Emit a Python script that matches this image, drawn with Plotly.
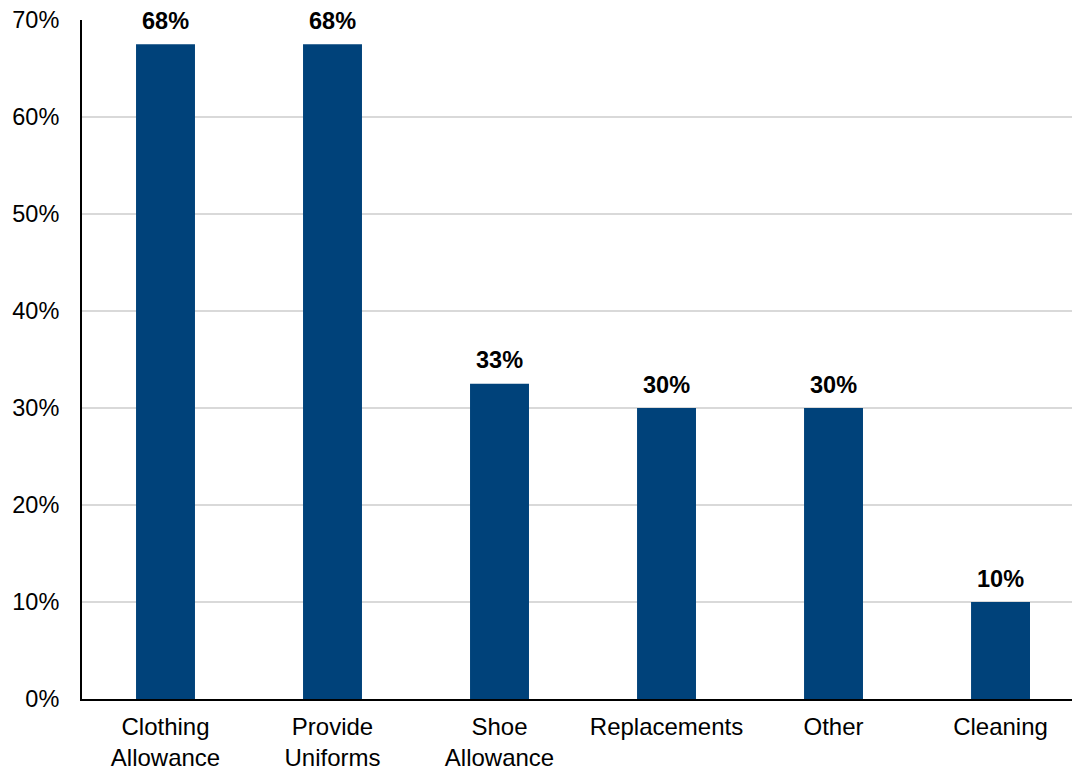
import plotly.graph_objects as go

categories = ["Clothing<br>Allowance", "Provide<br>Uniforms", "Shoe<br>Allowance", "Replacements", "Other", "Cleaning"]
values = [0.675, 0.675, 0.325, 0.30, 0.30, 0.10]
labels = ["68%", "68%", "33%", "30%", "30%", "10%"]
y_ticks = [0, 0.1, 0.2, 0.3, 0.4, 0.5, 0.6, 0.7]
y_tick_labels = ["0%", "10%", "20%", "30%", "40%", "50%", "60%", "70%"]

FONT = "Liberation Sans, Arial, sans-serif"

fig = go.Figure()
fig.add_trace(go.Bar(
    x=list(range(len(categories))), y=values,
    marker=dict(color="#00427A", line=dict(width=0)),
    hoverinfo="skip",
))

for i, (v, t) in enumerate(zip(values, labels)):
    fig.add_annotation(x=i, y=v, text="<b>" + t + "</b>", showarrow=False,
                       yanchor="bottom", yshift=8.5,
                       font=dict(family=FONT, size=23.5, color="#000000"))

fig.update_layout(
    width=1072, height=770,
    margin=dict(l=82, r=0, t=20, b=71),
    paper_bgcolor="white", plot_bgcolor="white",
    bargap=0.647,
    showlegend=False,
    font=dict(family=FONT, size=23.5, color="#000000"),
    xaxis=dict(
        range=[-0.5, 5.428],
        tickmode="array", tickvals=list(range(len(categories))), ticktext=categories,
        showgrid=False, showline=True, linecolor="#000000", linewidth=2,
        ticks="", ticklabelstandoff=5, ticklabeloverflow="allow",
        tickfont=dict(family=FONT, size=24, color="#000000"),
        zeroline=False,
    ),
    yaxis=dict(
        range=[0, 0.7],
        tickmode="array", tickvals=y_ticks, ticktext=y_tick_labels,
        showgrid=True, gridcolor="#D9D9D9", gridwidth=1.5,
        showline=True, linecolor="#000000", linewidth=2,
        ticks="", ticklabelstandoff=16, ticklabeloverflow="allow",
        tickfont=dict(family=FONT, size=23.5, color="#000000"),
        zeroline=False,
    ),
)

fig.write_html("out.html", config={"displayModeBar": False},
               post_script="document.body.style.margin='0';")
